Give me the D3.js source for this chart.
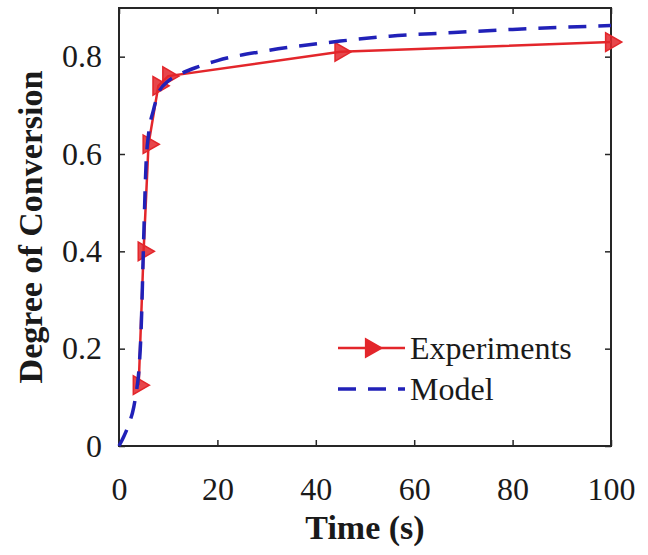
<!DOCTYPE html>
<html>
<head>
<meta charset="utf-8">
<script src="https://cdn.jsdelivr.net/npm/d3@7"></script>
<style>
  body { margin: 0; background: #fff; }
  text { font-family: "Liberation Serif", "Times New Roman", serif; fill: #1a1a1a; }
</style>
</head>
<body>
<div id="chart"></div>
<script>
const expTime = [4, 5, 6, 8, 10, 45, 100];
const expConv = [0.125, 0.4, 0.62, 0.74, 0.76, 0.81, 0.83];

// model curve samples
const modelTime = [0, 1, 2, 3, 3.5, 4, 4.5, 5, 5.5, 6, 7, 8, 10, 12, 16, 20, 30, 45, 55, 67, 80, 100];
const modelConv = [0, 0.02, 0.045, 0.08, 0.11, 0.15, 0.24, 0.42, 0.58, 0.64, 0.69, 0.725, 0.75, 0.762, 0.779, 0.792, 0.812, 0.832, 0.842, 0.849, 0.856, 0.864];

const xTicks = [0, 20, 40, 60, 80, 100];
const yTicks = [0, 0.2, 0.4, 0.6, 0.8];

const legendLabels = ["Experiments", "Model"];

const W = 648, H = 555;
const margin = {top: 8, right: 37, bottom: 109, left: 119};
const width = W - margin.left - margin.right;
const height = H - margin.top - margin.bottom;

const red = "#e3262b";
const blue = "#2121b8";
const axisCol = "#262626";

const svg = d3.select("#chart").append("svg")
    .attr("width", W)
    .attr("height", H);

const g = svg.append("g")
    .attr("transform", `translate(${margin.left},${margin.top})`);

const x = d3.scaleLinear().domain([0, 100]).range([0, width]);
const y = d3.scaleLinear().domain([0, 0.9]).range([height, 0]);

// axes with inward ticks (box style)
const styleAxis = sel => {
    sel.select(".domain").remove();
    sel.selectAll(".tick line").attr("stroke", axisCol).attr("stroke-width", 1.5);
    sel.selectAll(".tick text").style("font-size", "32px").attr("fill", "#1a1a1a");
};

g.append("g")
    .attr("transform", `translate(0,${height})`)
    .call(d3.axisBottom(x).tickValues(xTicks).tickSizeInner(-6).tickSizeOuter(0).tickPadding(31))
    .call(styleAxis);

g.append("g")
    .call(d3.axisLeft(y).tickValues(yTicks).tickFormat(d => d === 0 ? "0" : d3.format(".1f")(d))
        .tickSizeInner(-6).tickSizeOuter(0).tickPadding(17))
    .call(styleAxis);

g.append("g")
    .call(d3.axisTop(x).tickValues(xTicks).tickSizeInner(-6).tickSizeOuter(0).tickFormat(""))
    .call(styleAxis);

g.append("g")
    .attr("transform", `translate(${width},0)`)
    .call(d3.axisRight(y).tickValues(yTicks).tickSizeInner(-6).tickSizeOuter(0).tickFormat(""))
    .call(styleAxis);

g.append("rect")
    .attr("width", width)
    .attr("height", height)
    .attr("fill", "none")
    .attr("stroke", axisCol)
    .attr("stroke-width", 2);

// model line
const modelData = modelTime.map((t, i) => ({t: t, v: modelConv[i]}));
const expData = expTime.map((t, i) => ({t: t, v: expConv[i]}));

const line = d3.line()
    .x(d => x(d.t))
    .y(d => y(d.v));

// experiments line
g.append("path")
    .datum(expData)
    .attr("fill", "none")
    .attr("stroke", red)
    .attr("stroke-width", 2.5)
    .attr("d", line);

const tri = d3.symbol().type(d3.symbolTriangle).size(150);

g.selectAll(".marker")
    .data(expData)
    .enter().append("path")
    .attr("class", "marker")
    .attr("d", tri)
    .attr("transform", d => `translate(${x(d.t)},${y(d.v)}) rotate(90)`)
    .attr("fill", red)
    .attr("fill-opacity", 0.85)
    .attr("stroke", red)
    .attr("stroke-width", 1.5);

g.append("path")
    .datum(modelData)
    .attr("fill", "none")
    .attr("stroke", blue)
    .attr("stroke-width", 3.5)
    .attr("stroke-dasharray", "18,12")
    .attr("d", line.curve(d3.curveMonotoneX));

// axis titles
svg.append("text")
    .attr("x", margin.left + width / 2)
    .attr("y", 539)
    .attr("text-anchor", "middle")
    .style("font-size", "34px")
    .style("font-weight", "bold")
    .text("Time (s)");

svg.append("text")
    .attr("transform", "rotate(-90)")
    .attr("x", -(margin.top + height / 2))
    .attr("y", 42)
    .attr("text-anchor", "middle")
    .style("font-size", "34px")
    .style("font-weight", "bold")
    .text("Degree of Conversion");

// legend
const legend = svg.append("g").attr("transform", "translate(338,348)");

legend.append("line")
    .attr("x1", 0).attr("x2", 67)
    .attr("stroke", red).attr("stroke-width", 2.5);
legend.append("path")
    .attr("d", tri)
    .attr("transform", "translate(33,0) rotate(90)")
    .attr("fill", red)
    .attr("stroke", red)
    .attr("stroke-width", 1.5);
legend.append("text")
    .attr("x", 72).attr("y", 11)
    .style("font-size", "32px")
    .text(legendLabels[0]);

legend.append("line")
    .attr("x1", 0).attr("x2", 67)
    .attr("y1", 41).attr("y2", 41)
    .attr("stroke", blue).attr("stroke-width", 3.5)
    .attr("stroke-dasharray", "18,12");
legend.append("text")
    .attr("x", 72).attr("y", 52)
    .style("font-size", "32px")
    .text(legendLabels[1]);
</script>
</body>
</html>
